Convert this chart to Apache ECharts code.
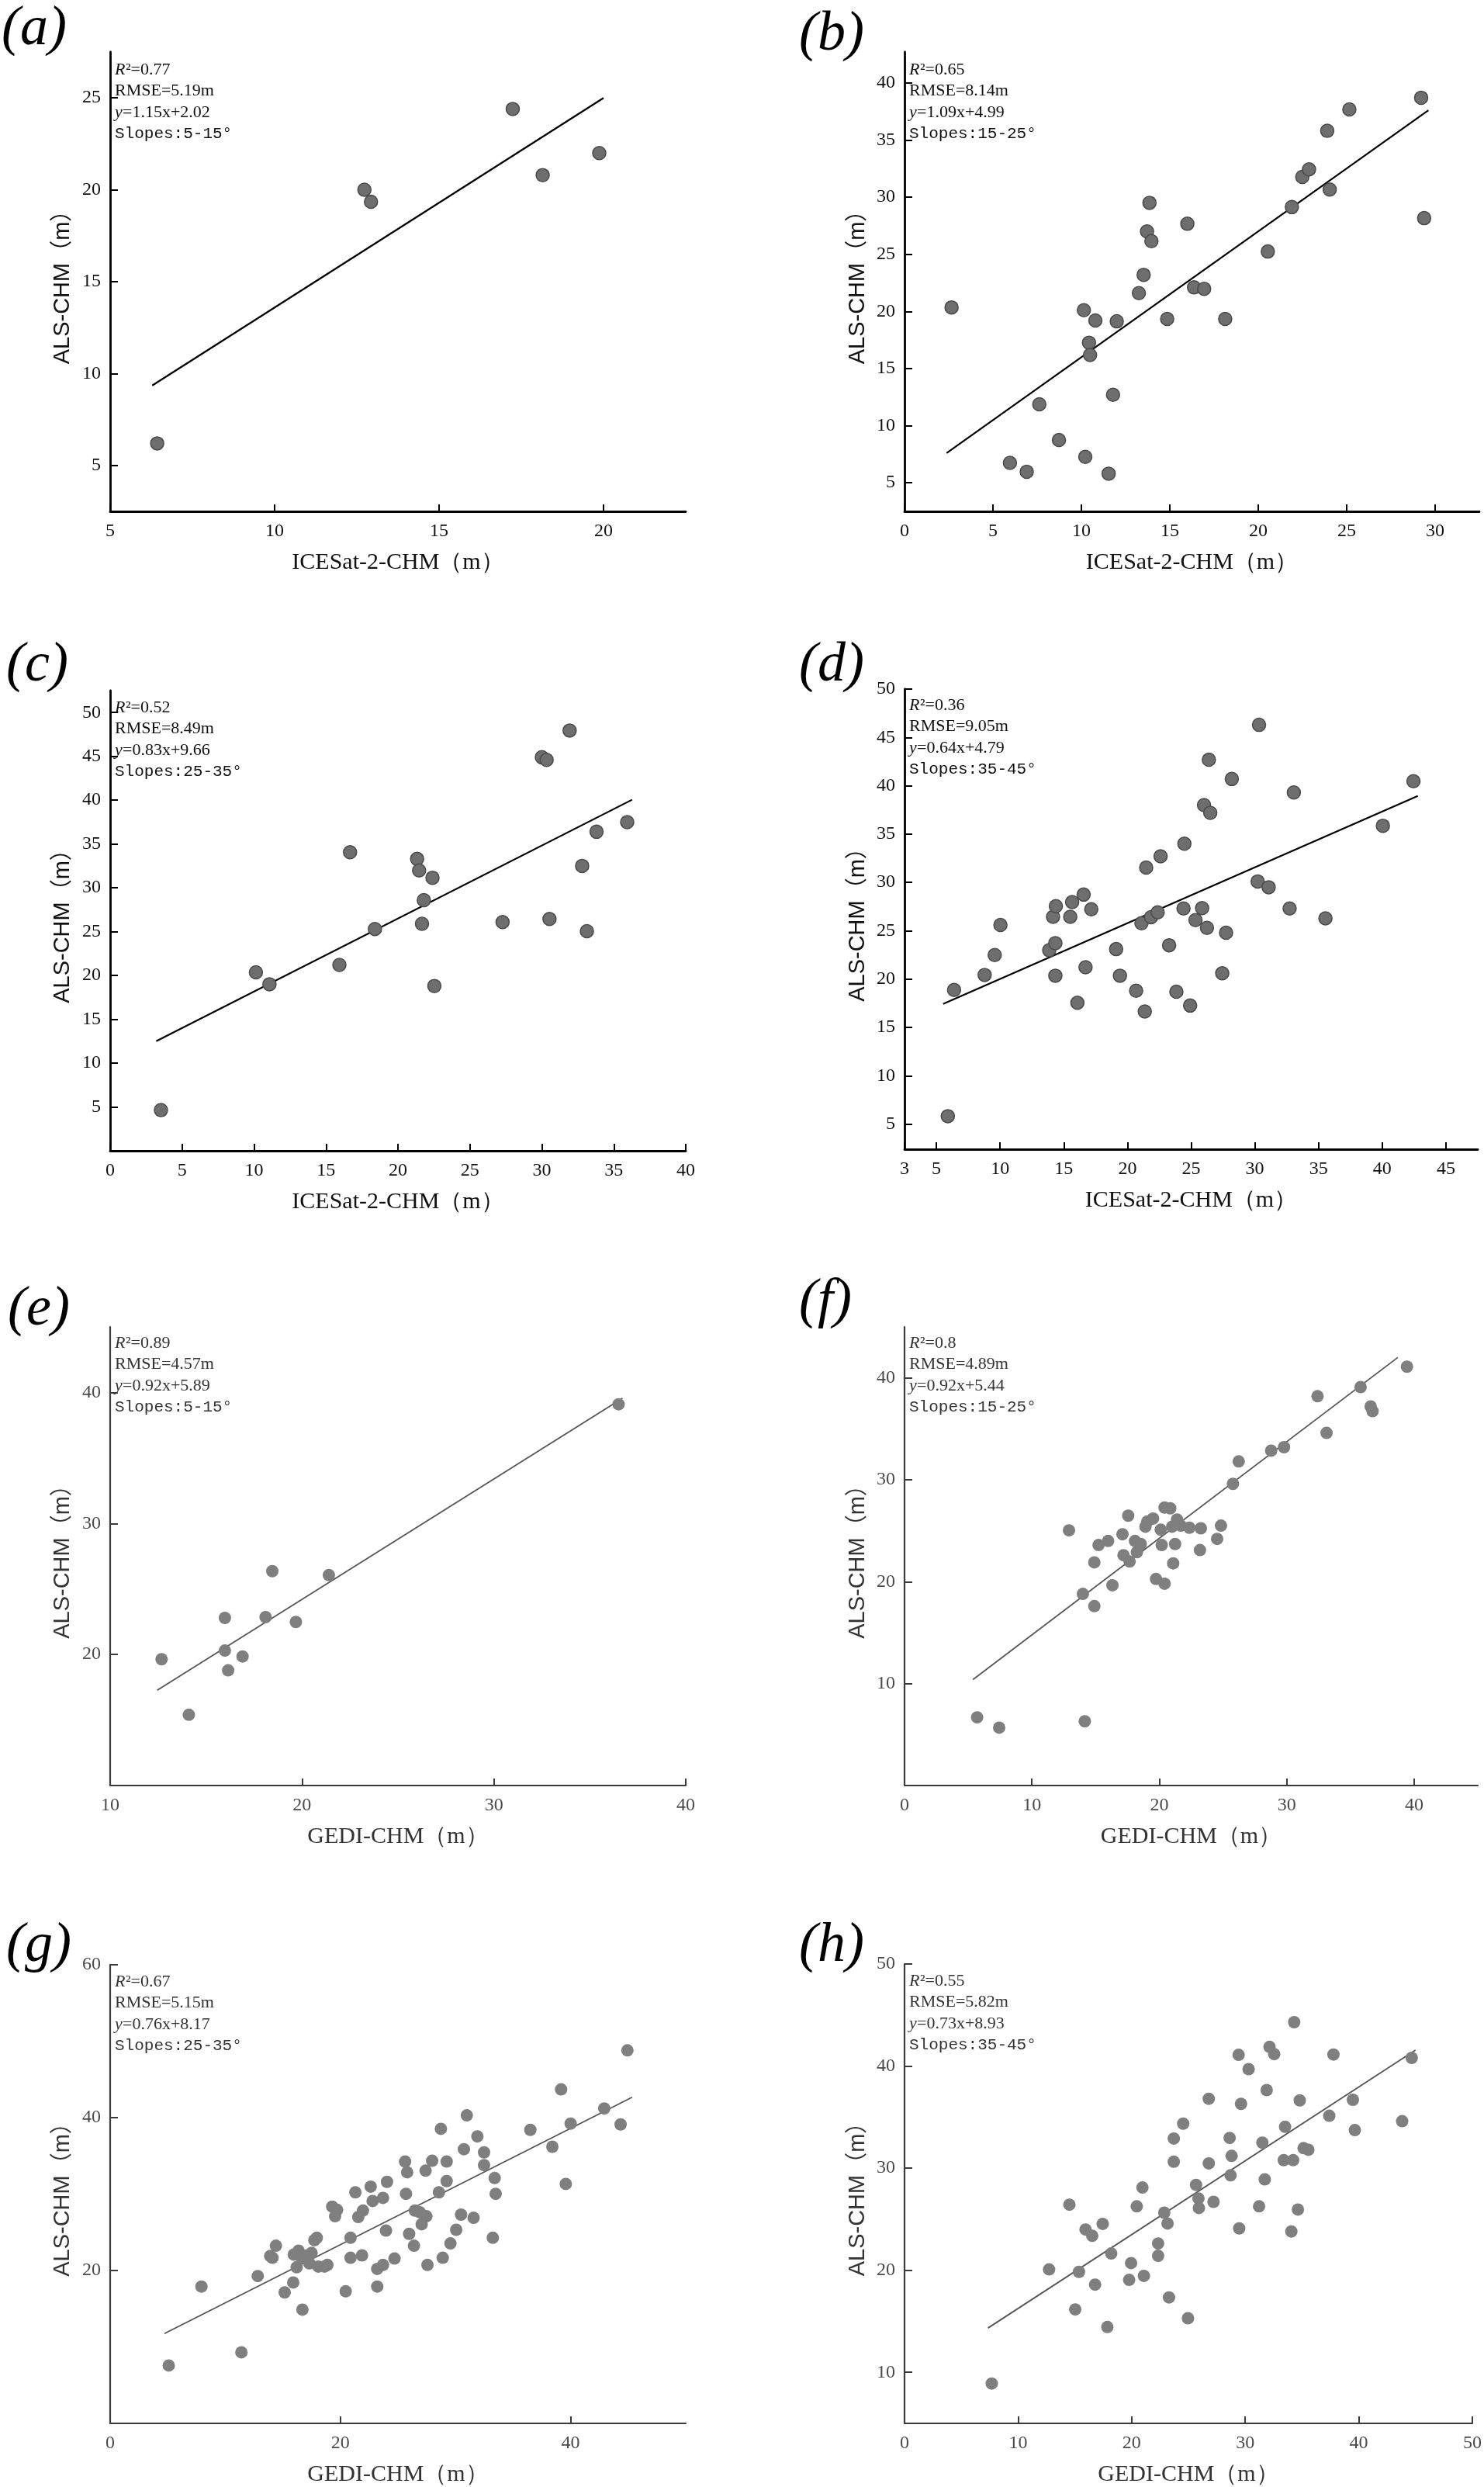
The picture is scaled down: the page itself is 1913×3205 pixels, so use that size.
<!DOCTYPE html>
<html>
<head>
<meta charset="utf-8">
<title>ALS-CHM vs ICESat-2 / GEDI</title>
<script src="https://cdn.jsdelivr.net/npm/echarts@6/dist/echarts.min.js"></script>
<style>
  html, body { margin: 0; padding: 0; background: #fff; }
  #main { width: 1913px; height: 3205px; }
</style>
</head>
<body>
<div id="main"></div>
<script>
// ---- data ----
var panelNames = ['(a)', '(b)', '(c)', '(d)', '(e)', '(f)', '(g)', '(h)'];
var xNames = ['ICESat-2-CHM', 'ICESat-2-CHM', 'ICESat-2-CHM', 'ICESat-2-CHM',
              'GEDI-CHM', 'GEDI-CHM', 'GEDI-CHM', 'GEDI-CHM'];

var r2Values   = ['0.77', '0.65', '0.52', '0.36', '0.89', '0.8', '0.67', '0.55'];
var rmseValues = ['5.19m', '8.14m', '8.49m', '9.05m', '4.57m', '4.89m', '5.15m', '5.82m'];
var fitLabels  = ['1.15x+2.02', '1.09x+4.99', '0.83x+9.66', '0.64x+4.79',
                  '0.92x+5.89', '0.92x+5.44', '0.76x+8.17', '0.73x+8.93'];
var slopeLabels = ['5-15°', '15-25°', '25-35°', '35-45°', '5-15°', '15-25°', '25-35°', '35-45°'];

// axis ranges and tick values
var xRanges = [[5, 22.5], [0, 32.5], [0, 40], [2.5, 47.5], [10, 40], [0, 45], [0, 50], [0, 50]];
var yRanges = [[2.5, 27.5], [2.5, 42.7], [0, 52.5], [2.4, 50], [10, 45], [0, 45], [0, 60], [5, 50]];
var xTicks = [
  [5, 10, 15, 20],
  [0, 5, 10, 15, 20, 25, 30],
  [0, 5, 10, 15, 20, 25, 30, 35, 40],
  [2.5, 5, 10, 15, 20, 25, 30, 35, 40, 45],
  [10, 20, 30, 40],
  [0, 10, 20, 30, 40],
  [0, 20, 40],
  [0, 10, 20, 30, 40, 50]
];
var yTicks = [
  [5, 10, 15, 20, 25],
  [5, 10, 15, 20, 25, 30, 35, 40],
  [5, 10, 15, 20, 25, 30, 35, 40, 45, 50],
  [5, 10, 15, 20, 25, 30, 35, 40, 45, 50],
  [20, 30, 40],
  [10, 20, 30, 40],
  [20, 40, 60],
  [10, 20, 30, 40, 50]
];

var aPoints = [[6.43, 6.2], [12.73, 20.0], [12.93, 19.35], [17.24, 24.4], [18.15, 20.8], [19.87, 22.0]];
var aFit = [[6.28, 9.35], [20.0, 25.0]];

var bPoints = [[2.66, 20.35], [5.96, 6.74], [6.91, 5.97], [7.62, 11.87], [8.73, 8.75], [10.14, 20.1],
  [10.22, 7.27], [10.43, 17.26], [10.49, 16.18], [10.79, 19.2], [11.54, 5.8], [11.79, 12.7],
  [12.0, 19.13], [13.25, 21.6], [13.52, 23.2], [13.71, 27.0], [13.85, 29.5], [13.96, 26.15],
  [14.85, 19.34], [15.99, 27.67], [16.37, 22.1], [16.94, 21.98], [18.13, 19.34], [20.54, 25.24],
  [21.9, 29.13], [22.49, 31.77], [22.87, 32.43], [23.9, 35.8], [24.04, 30.66], [25.15, 37.67],
  [29.21, 38.7], [29.38, 28.16]];
var bFit = [[2.38, 7.6], [29.62, 37.6]];

var cPoints = [[3.53, 4.64], [10.13, 20.36], [11.07, 19.0], [15.93, 21.2], [16.67, 34.06], [18.4, 25.3],
  [21.33, 33.3], [21.47, 31.98], [21.8, 28.6], [21.67, 25.9], [22.4, 31.15], [22.53, 18.8],
  [27.27, 26.1], [30.0, 44.9], [30.33, 44.6], [30.53, 26.45], [31.93, 47.95], [32.8, 32.5],
  [33.13, 25.05], [33.8, 36.4], [35.93, 37.5]];
var cFit = [[3.2, 12.5], [36.27, 40.05]];

var dPoints = [[5.9, 5.82], [6.39, 18.87], [8.79, 20.43], [9.58, 22.49], [10.03, 25.6], [13.86, 22.98],
  [14.16, 26.44], [14.38, 27.55], [14.34, 23.72], [14.34, 20.35], [15.51, 26.44], [15.66, 27.96],
  [16.56, 28.74], [16.07, 17.55], [16.71, 21.22], [17.16, 27.22], [19.11, 23.1], [19.41, 20.35],
  [20.68, 18.79], [21.1, 25.78], [21.47, 31.54], [21.36, 16.65], [21.85, 26.4], [22.37, 26.9],
  [22.6, 32.7], [23.27, 23.5], [23.84, 18.7], [24.4, 27.3], [24.47, 34.0], [24.92, 17.26],
  [25.34, 26.1], [25.86, 27.35], [26.01, 38.0], [26.24, 25.3], [26.39, 42.7], [26.5, 37.2],
  [27.44, 20.6], [27.74, 24.8], [28.19, 40.7], [30.22, 30.1], [30.33, 46.3], [31.08, 29.5],
  [32.73, 27.3], [33.06, 39.3], [35.54, 26.28], [40.05, 35.86], [42.45, 40.47]];
var dFit = [[5.53, 17.43], [42.79, 38.95]];

var ePoints = [[12.68, 19.64], [14.1, 15.4], [15.98, 22.79], [15.98, 20.3], [16.15, 18.79], [16.9, 19.85],
  [18.1, 22.85], [18.45, 26.36], [19.68, 22.48], [21.4, 26.06], [36.5, 39.1]];
var eFit = [[12.45, 17.27], [36.7, 39.55]];

var fPoints = [[5.7, 6.69], [7.43, 5.68], [14.15, 6.3], [12.91, 25.04], [14.0, 18.8], [14.9, 17.6],
  [14.9, 21.9], [15.23, 23.6], [15.98, 24.0], [16.32, 19.65], [17.11, 24.66], [17.19, 22.6],
  [17.56, 26.48], [17.67, 21.98], [18.09, 24.0], [18.24, 22.9], [18.54, 23.7], [18.91, 25.4],
  [19.06, 25.9], [19.51, 26.2], [19.74, 20.27], [20.11, 25.1], [20.19, 23.6], [20.41, 27.27],
  [20.41, 19.8], [20.86, 27.2], [21.01, 25.4], [21.09, 21.8], [21.24, 23.7], [21.39, 26.1],
  [21.69, 25.5], [22.36, 25.3], [23.26, 25.24], [23.19, 23.1], [24.54, 24.2], [24.84, 25.5],
  [25.78, 29.6], [26.23, 31.8], [28.78, 32.86], [29.79, 33.2], [32.42, 38.2], [33.13, 34.6],
  [35.8, 39.1], [36.59, 37.2], [36.74, 36.73], [39.44, 41.1]];
var fFit = [[5.37, 10.39], [38.72, 42.0]];

var gPoints = [[5.09, 7.57], [7.93, 17.9], [11.4, 9.3], [12.82, 19.27], [14.1, 21.67], [14.4, 23.24],
  [13.9, 21.9], [15.16, 17.13], [15.9, 18.43], [15.95, 22.09], [16.2, 20.42], [16.37, 22.6],
  [16.62, 21.67], [16.7, 14.88], [17.1, 21.98], [17.3, 20.94], [17.5, 22.3], [17.74, 23.97],
  [17.95, 24.28], [18.08, 20.52], [18.62, 20.52], [18.87, 20.73], [19.29, 28.36], [19.54, 27.1],
  [19.71, 27.94], [20.46, 17.28], [20.88, 21.67], [20.88, 24.28], [21.3, 30.23], [21.55, 27.0],
  [21.88, 21.98], [21.96, 27.83], [22.63, 30.97], [22.8, 29.09], [23.2, 17.9], [23.2, 20.21],
  [23.7, 20.73], [23.7, 29.5], [23.96, 25.22], [24.05, 31.6], [24.7, 21.57], [25.62, 34.26],
  [25.7, 30.03], [25.8, 32.85], [25.97, 24.8], [26.39, 23.24], [26.47, 27.83], [26.89, 27.62],
  [27.06, 26.05], [27.4, 33.06], [27.47, 27.1], [27.56, 20.73], [27.97, 34.36], [28.56, 30.23],
  [28.73, 38.54], [28.89, 21.67], [29.23, 34.26], [29.23, 31.7], [29.56, 23.55], [30.06, 25.33],
  [30.48, 27.31], [30.73, 35.87], [30.98, 40.3], [31.57, 26.9], [31.9, 37.55], [32.48, 35.46],
  [32.48, 33.79], [33.4, 32.1], [33.49, 30.03], [33.24, 24.28], [36.5, 38.4], [38.41, 36.19],
  [39.17, 43.7], [39.58, 31.33], [40.0, 39.22], [42.92, 41.2], [44.34, 39.11], [44.93, 48.8]];
var gFit = [[4.72, 11.75], [45.34, 42.66]];

var hPoints = [[7.68, 8.9], [12.73, 20.08], [14.52, 26.42], [15.03, 16.16], [15.36, 19.84], [15.94, 23.99],
  [16.53, 23.37], [16.78, 18.59], [17.45, 24.54], [17.86, 14.44], [18.2, 21.64], [19.95, 20.7],
  [19.78, 19.06], [20.45, 26.26], [20.95, 28.1], [21.08, 19.45], [22.33, 21.41], [22.33, 22.62],
  [22.87, 25.64], [23.16, 24.58], [23.29, 17.34], [23.71, 32.9], [23.71, 30.63], [24.54, 34.36],
  [24.96, 15.3], [25.67, 28.36], [25.88, 27.03], [25.92, 26.1], [26.79, 36.8], [26.79, 30.47],
  [27.21, 26.7], [28.63, 32.96], [28.71, 29.3], [28.8, 31.2], [29.42, 41.1], [29.47, 24.1],
  [29.63, 36.3], [30.3, 39.7], [31.22, 26.26], [31.51, 32.5], [31.72, 28.9], [31.89, 37.65],
  [32.14, 41.88], [32.55, 41.17], [33.39, 30.78], [33.51, 34.05], [34.06, 23.8], [34.22, 30.78],
  [34.31, 44.3], [34.64, 25.95], [34.8, 36.64], [35.14, 31.96], [35.56, 31.8], [37.4, 35.13],
  [37.77, 41.13], [39.48, 36.7], [39.65, 33.73], [43.82, 34.6], [44.66, 40.8]];
var hFit = [[7.35, 14.34], [44.99, 41.56]];

var pointSets = [aPoints, bPoints, cPoints, dPoints, ePoints, fPoints, gPoints, hPoints];
var fitSets = [aFit, bFit, cFit, dFit, eFit, fFit, gFit, hFit];

// ---- layout (pixels) ----
var grids = [
  { left: 142, top: 67, width: 742, height: 592 },
  { left: 1166, top: 67, width: 741, height: 592 },
  { left: 142, top: 890, width: 742, height: 593 },
  { left: 1166, top: 888, width: 739, height: 593 },
  { left: 142, top: 1710, width: 742, height: 591 },
  { left: 1166, top: 1710, width: 739, height: 591 },
  { left: 142, top: 2532, width: 742, height: 592 },
  { left: 1166, top: 2531, width: 739, height: 593 }
];
var tagPos = [[2, 38], [1030, 45], [8, 858], [1030, 858], [10, 1688], [1030, 1678], [8, 2508], [1030, 2508]];
var statTop = [90, 90, 912, 909, 1731, 1731, 2554, 2553];

var serif = '"Liberation Serif", "Times New Roman", serif';
var sansCjk = '"Liberation Sans", Arial, "Noto Sans CJK SC", sans-serif';

var option = {
  backgroundColor: '#fff',
  animation: false,
  grid: [],
  xAxis: [],
  yAxis: [],
  series: [],
  graphic: []
};

function addText(x, y, text, font, color) {
  option.graphic.push({
    type: 'text', x: x, y: y, silent: true,
    style: { text: text, fill: color, font: font, verticalAlign: 'middle' }
  });
}

grids.forEach(function (g, i) {
  var gedi = i >= 4;
  var axisColor = gedi ? '#3c3c3c' : '#000';
  var labelColor = gedi ? '#4a4a4a' : '#111';
  var textColor = gedi ? '#333' : '#111';

  option.grid.push({ left: g.left, top: g.top, width: g.width, height: g.height });

  option.xAxis.push({
    type: 'value', gridIndex: i,
    min: xRanges[i][0], max: xRanges[i][1],
    axisLine: { show: true, onZero: false, lineStyle: { color: axisColor, width: gedi ? 2.2 : 2.8 } },
    axisTick: { show: true, inside: true, length: 9, customValues: xTicks[i],
                lineStyle: { color: axisColor, width: 2 } },
    axisLabel: { show: true, customValues: xTicks[i], margin: 14,
                 fontFamily: serif, fontSize: 24, color: labelColor,
                 formatter: function (v) { return String(Math.round(v)); } },
    splitLine: { show: false },
    name: xNames[i] + '（m）',
    nameLocation: 'middle', nameGap: 51,
    nameTextStyle: { fontFamily: serif, fontSize: 30, color: textColor }
  });

  option.yAxis.push({
    type: 'value', gridIndex: i,
    min: yRanges[i][0], max: yRanges[i][1],
    axisLine: { show: true, onZero: false, lineStyle: { color: axisColor, width: gedi ? 2.2 : 2.8 } },
    axisTick: { show: true, inside: true, length: 10, customValues: yTicks[i],
                lineStyle: { color: axisColor, width: 2 } },
    axisLabel: { show: true, customValues: yTicks[i], margin: 12,
                 fontFamily: serif, fontSize: 24, color: labelColor },
    splitLine: { show: false },
    name: 'ALS-CHM（m）',
    nameLocation: 'middle', nameGap: 46, nameRotate: 90,
    nameTextStyle: { fontFamily: sansCjk, fontSize: 29, color: textColor }
  });

  option.series.push({
    type: 'line', xAxisIndex: i, yAxisIndex: i,
    data: fitSets[i], symbol: 'none', silent: true, z: 2,
    lineStyle: { color: gedi ? '#555' : '#000', width: gedi ? 1.8 : 2.2 }
  });

  option.series.push({
    type: 'scatter', xAxisIndex: i, yAxisIndex: i,
    data: pointSets[i], symbolSize: gedi ? 16 : 17, z: 3,
    itemStyle: gedi
      ? { color: '#7f7f7f', opacity: 1 }
      : { color: '#6e6e6e', borderColor: '#4a4a4a', borderWidth: 1.5, opacity: 1 }
  });

  // panel tag
  addText(tagPos[i][0], tagPos[i][1], panelNames[i], 'italic 72px ' + serif, '#000');

  // statistics block
  var sx = g.left + 6;
  var sy = statTop[i];
  var step = 27.5;
  var plain = '22px ' + serif;
  var ital = 'italic 22px ' + serif;
  addText(sx, sy, 'R', ital, textColor);
  addText(sx + 14, sy, '²=' + r2Values[i], plain, textColor);
  addText(sx, sy + step, 'RMSE=' + rmseValues[i], plain, textColor);
  addText(sx, sy + 2 * step, 'y', ital, textColor);
  addText(sx + 10, sy + 2 * step, '=' + fitLabels[i], plain, textColor);
  addText(sx, sy + 3 * step, 'Slopes:' + slopeLabels[i],
          '21px "Liberation Mono", "DejaVu Sans Mono", monospace', textColor);
});

var chart = echarts.init(document.getElementById('main'), null, { renderer: 'canvas' });
chart.setOption(option);
</script>
</body>
</html>
